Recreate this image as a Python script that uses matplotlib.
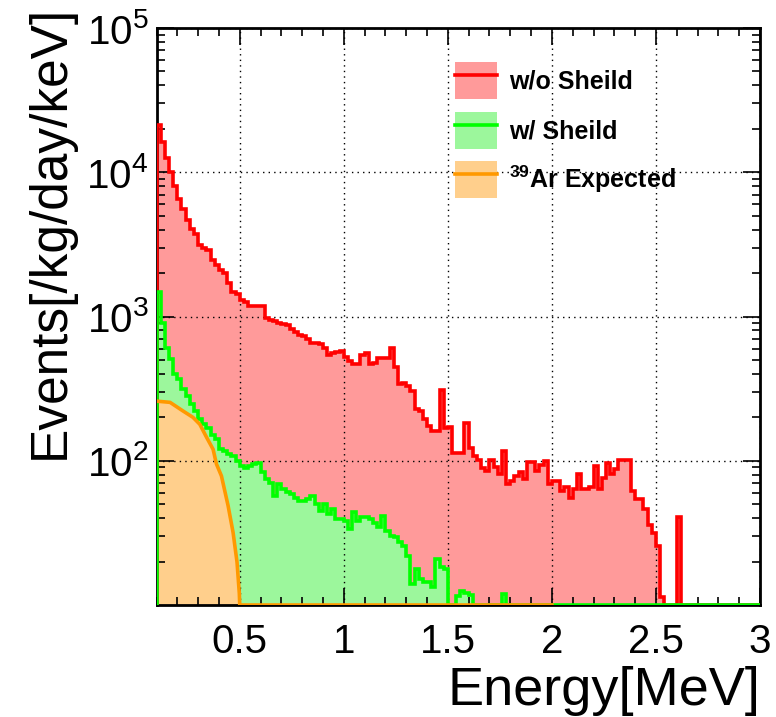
import numpy as np
import matplotlib
matplotlib.use("Agg")
import matplotlib.pyplot as plt
from matplotlib.patches import Patch
from matplotlib.lines import Line2D
from matplotlib.ticker import MultipleLocator, FixedLocator, LogLocator, FuncFormatter, NullFormatter

plt.rcParams['font.family'] = ['Liberation Sans', 'DejaVu Sans']
plt.rcParams['mathtext.fontset'] = 'custom'
plt.rcParams['mathtext.rm'] = 'Liberation Sans'
plt.rcParams['mathtext.bf'] = 'Liberation Sans:bold'

# bin edges in MeV (0.02 MeV bins)
bin_edges = np.round(np.arange(0.10, 3.0001, 0.02), 3)

# events/kg/day/keV, no shield
no_shield = [
    21300, 16300, 12500, 9970, 7980, 6530, 5560, 4690, 4040, 3750,
    3150, 2990, 2910, 2480, 2290, 2110, 1990, 1710, 1470, 1440,
    1310, 1260, 1180, 1180, 1190, 1180, 980, 942, 927, 903,
    894, 880, 813, 778, 750, 730, 693, 657, 657, 640,
    607, 545, 554, 566, 575, 526, 491, 465, 465, 545,
    554, 465, 473, 518, 518, 518, 607, 449, 338, 344,
    329, 304, 230, 221, 194, 174, 161, 161, 309, 170,
    172, 114, 114, 114, 184, 123, 108, 102, 89.7, 85,
    102, 90, 80.7, 117, 68.7, 72.4, 77.8, 82.9, 74.5, 98,
    98, 84.6, 93, 99.7, 68.7, 72.4, 72.4, 61.8, 65.3, 55.6,
    63.5, 80.7, 63.5, 63.5, 65.3, 92, 63.5, 76.5, 96, 80.7,
    87.3, 101, 101, 101, 61.8, 54.2, 54.2, 46.1, 35.8, 31.5,
    25.5, 11.4, 0, 0, 0, 40.5, 0, 0, 0, 0,
    0, 0, 0, 0, 0, 0, 0, 0, 0, 0,
    0, 0, 0, 0, 0,
]

# with shield
with_shield = [
    1490, 904, 607, 504, 397, 366, 313, 281, 246, 221,
    194, 179, 170, 152, 141, 120, 116, 111, 108, 99.7,
    92, 89.7, 91.6, 94.6, 97.1, 82.9, 74.5, 70.6, 57, 68.7,
    63.5, 60.3, 58.7, 55.6, 52.7, 52.7, 54.2, 57, 50, 45,
    50, 42.7, 46.1, 39.4, 39.4, 38.3, 33.6, 43.8, 38.3, 40.5,
    40.5, 39.4, 37.3, 34.5, 41.5, 32.7, 30.2, 29.4, 27.2, 25.7,
    21.9, 14, 17.7, 15.1, 14.4, 14.4, 13.3, 20.8, 18.2, 17.7,
    0, 0, 11.5, 12.6, 12.2, 11.8, 0, 0, 0, 0,
    0, 0, 0, 12, 0, 0, 0, 0, 0, 0,
] + [0] * 55

# 39Ar expected spectrum
ar39_energy = [0.10, 0.165, 0.228, 0.275, 0.308, 0.341, 0.372, 0.388, 0.412,
               0.444, 0.468, 0.487, 0.498, 0.50, 2.0]
ar39_rate = [259, 254, 221, 200, 179, 145, 120, 95, 78.5,
             48.8, 31.8, 19.8, 12, 0, 0]

YMIN, YMAX = 10, 1e5

fig = plt.figure(figsize=(7.76, 7.17), dpi=100)
ax = fig.add_axes([156.5 / 776, 1 - 605 / 717, (760 - 156.5) / 776, (605 - 28) / 717])
ax.set_yscale('log')

series = [
    (no_shield, '#ff0000', '#ff9a9a', 'w/o Sheild'),
    (with_shield, '#00ff00', '#9cf79c', 'w/ Sheild'),
]
handles = []
for vals, lc, fc, lab in series:
    v = np.maximum(np.array(vals, dtype=float), YMIN)
    ax.stairs(v, bin_edges, baseline=YMIN, fill=True, color=fc, lw=0, zorder=1)
    ax.stairs(v, bin_edges, baseline=YMIN, color=lc, lw=2.6, zorder=3)
    handles.append((Patch(facecolor=fc, edgecolor='none'), Line2D([], [], color=lc, lw=2.6)))

ar_e = np.array(ar39_energy)
ar_r = np.maximum(np.array(ar39_rate, dtype=float), YMIN)
ax.fill_between(ar_e, YMIN, ar_r, color='#ffcf8c', lw=0, zorder=1)
ax.plot(ar_e, ar_r, color='#ff9900', lw=2.6, zorder=3, solid_joinstyle='round')
handles.append((Patch(facecolor='#ffcf8c', edgecolor='none'), Line2D([], [], color='#ff9900', lw=2.6)))

ax.set_xlim(0.1, 3.0)
ax.set_ylim(YMIN, YMAX)

ax.xaxis.set_major_locator(FixedLocator([0.5, 1, 1.5, 2, 2.5, 3]))
ax.xaxis.set_minor_locator(MultipleLocator(0.1))
ax.xaxis.set_major_formatter(FuncFormatter(lambda x, p: '%g' % x))
ax.yaxis.set_major_locator(FixedLocator([1e2, 1e3, 1e4, 1e5]))
ax.yaxis.set_minor_locator(LogLocator(base=10, subs=np.arange(2, 10)))
ax.yaxis.set_minor_formatter(NullFormatter())
ax.yaxis.set_major_formatter(FuncFormatter(lambda y, p: r'$10^{%d}$' % round(np.log10(y))))

ax.tick_params(which='both', direction='in', top=True, right=True, width=1.2, labelsize=29)
ax.tick_params(which='major', length=12)
ax.tick_params(which='minor', length=6)
ax.tick_params(axis='x', pad=13)
ax.tick_params(axis='y', pad=6)

ax.set_axisbelow(False)
ax.grid(True, which='major', color='black', linestyle=(0, (1, 3)), linewidth=1.0)
for s in ax.spines.values():
    s.set_linewidth(2)

ax.set_xlabel('Energy[MeV]', fontsize=39, loc='right')
ax.xaxis.set_label_coords(1.0, -0.105)
ax.set_ylabel('Events[/kg/day/keV]', fontsize=37, loc='top')
ax.yaxis.set_label_coords(-0.135, 1.04)

leg = ax.legend(handles, ['w/o Sheild', 'w/ Sheild', r'$^{\mathbf{39}}$Ar Expected'],
                loc='upper left', bbox_to_anchor=(0.4946, 0.941), frameon=False,
                prop={'weight': 'bold', 'size': 18}, handlelength=1.7, handleheight=1.9,
                labelspacing=0.5, handletextpad=0.45, borderpad=0, borderaxespad=0)

fig.savefig('out.png', dpi=100)
